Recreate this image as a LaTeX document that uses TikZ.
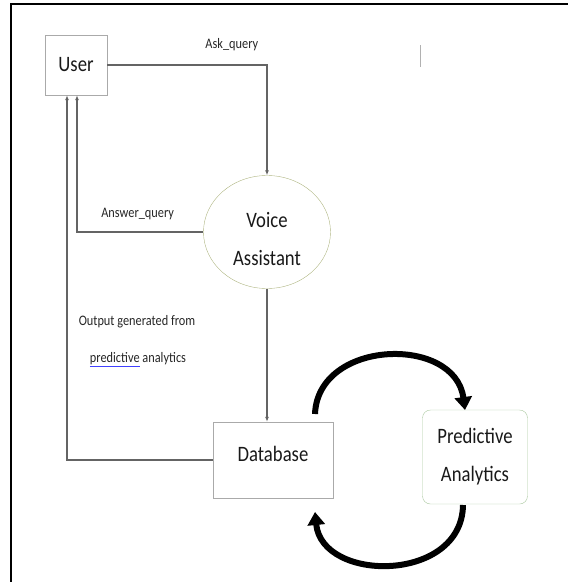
\documentclass[tikz,border=0pt]{standalone}
\usepackage{fontspec}
\setmainfont{Carlito}[FakeStretch=0.85]
\usepackage{tikz}
\usetikzlibrary{arrows.meta, calc, positioning, shapes.geometric}
\definecolor{linegray}{RGB}{100,100,100}
\definecolor{ellgreen}{RGB}{175,182,130}
\definecolor{boxgreen}{RGB}{170,200,160}

\begin{document}
\begin{tikzpicture}[x=1pt, y=-1pt,% pixel grid of the page
          > = {Latex[length=5pt,width=4pt]},
 big/.style = {font=\fontsize{22}{38}\selectfont, text=black!90, align=center},
small/.style = {font=\fontsize{14.5}{17}\selectfont, text=black!85},
proc/.style = {draw=linegray!55, thin, big, inner sep=0pt},
flow/.style = {draw=linegray, line width=1.1pt, ->},
loop/.style = {line width=6pt, -{Triangle[length=13pt,width=17pt]}}
                   ]
	\useasboundingbox (0,0) rectangle (568,582);
	% frame (left and top only)
	\draw[line width=2pt] (11,582) -- (11,4) -- (568,4);
	\draw[linegray!50] (420,45) -- (420,67);

	% nodes
	\node[proc, minimum width=62pt, minimum height=60pt] (user) at (76,65) {User};
	\node[proc, ellipse, draw=ellgreen, minimum width=127pt, minimum height=113pt,
		label={[big, yshift=-7pt]center:{Voice\\Assistant}}] (voice) at (267,232) {};
	\node[proc, minimum width=120pt, minimum height=76pt,
		label={[big, yshift=6pt]center:Database}] (db) at (273,460) {};
	\node[proc, draw=boxgreen, rounded corners=8pt, minimum width=105pt, minimum height=94pt]
		(pred) at (475,457) {Predictive\\Analytics};

	\coordinate (inA) at ($(user.south)+(1,0)$);
	\coordinate (inB) at ($(user.south)+(-9,0)$);

	% connectors
	\draw[flow] (user.east) -| (voice.north) node[small, pos=0.39, above=10pt] {Ask\_query};
	\draw[flow] (voice.west) -| (inA) node[small, pos=0.26, above=8pt] {Answer\_query};
	\draw[flow] (voice.south) -- (voice.south |- db.north);
	\draw[flow] (db.west) -| (inB);

	\node[small] (outA) at (137,322) {Output generated from};
	\node[small] (outB) at (138,360) {{\color{blue!75}\underline{\textcolor{black!85}{predictive}}} analytics};

	% thick loop between database and analytics
	\coordinate (dbTop) at (315,414);
	\coordinate (prTop) at (465,410);
	\coordinate (prBot) at (463,505);
	\coordinate (dbBot) at (315,512);
	\draw[loop] (dbTop) .. controls (318,339) and (455,335) .. (prTop);
	\draw[loop] (prBot) .. controls (462,583) and (322,583) .. (dbBot);
\end{tikzpicture}
\end{document}
